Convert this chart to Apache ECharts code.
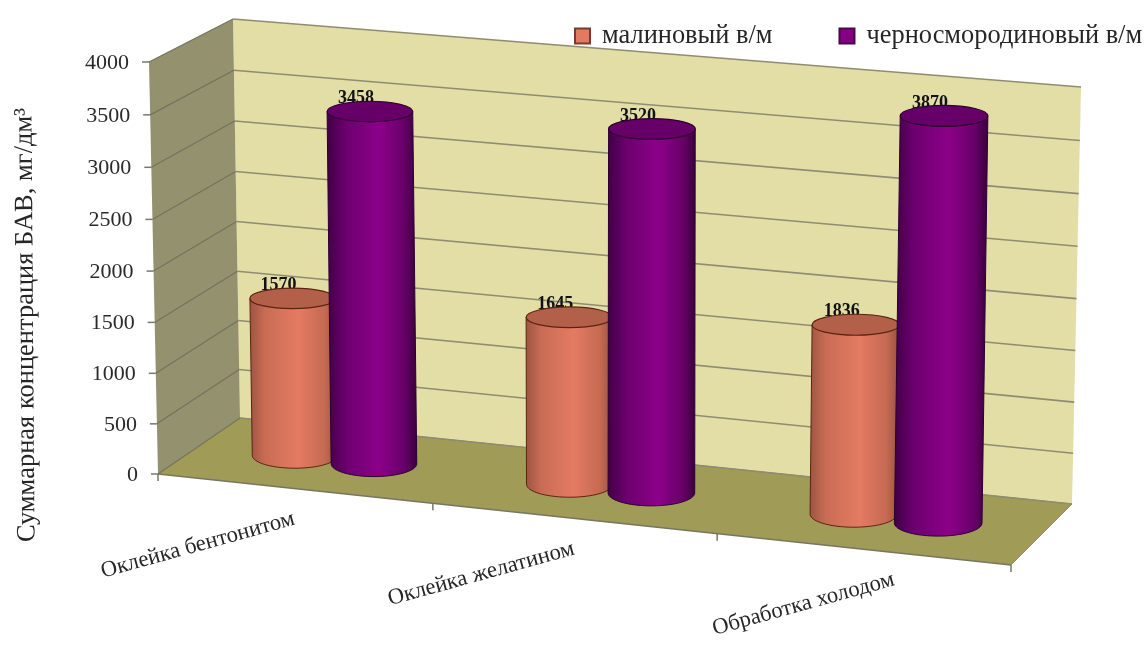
<!DOCTYPE html>
<html lang="ru">
<head>
<meta charset="utf-8">
<title>Суммарная концентрация БАВ</title>
<script src="https://cdn.jsdelivr.net/npm/echarts@6/dist/echarts.min.js"></script>
<style>
  html, body { margin: 0; padding: 0; background: #fff; }
  #chart { width: 1148px; height: 661px; }
</style>
</head>
<body>
<div id="chart"></div>
<script>
// Chart values
const categories = ['Оклейка бентонитом', 'Оклейка желатином', 'Обработка холодом'];
const raspberryName = 'малиновый в/м';
const blackcurrantName = 'черносмородиновый в/м';
const raspberry = [1570, 1645, 1836];
const blackcurrant = [3458, 3520, 3870];
const valueTicks = [0, 500, 1000, 1500, 2000, 2500, 3000, 3500, 4000];
const valueAxisTitle = 'Суммарная концентрация БАВ, мг/дм³';

// Screen corners of the 3D box: f = front, b = back, L/R = side, 0/1 = value floor/ceiling
const box = {
  fL0: [158, 474], fL1: [149, 62], fR0: [1011, 565], fR1: [1018, 135],
  bL0: [240, 418], bL1: [233, 19], bR0: [1072, 504], bR1: [1081, 87]
};
const serif = '"Liberation Serif", "Times New Roman", serif';

const lerp = (a, b, t) => [a[0] + (b[0] - a[0]) * t, a[1] + (b[1] - a[1]) * t];

// u: along the category axis, v: up the value axis, w: depth into the box (all 0..1)
function project(u, v, w) {
  // perspective foreshortening: the right and upper parts sit closer to the viewer
  const s = u - 0.05 * u * (1 - u);
  const h = v - 0.03 * v * (1 - v);
  const front = lerp(lerp(box.fL0, box.fR0, s), lerp(box.fL1, box.fR1, s), h);
  const back = lerp(lerp(box.bL0, box.bR0, s), lerp(box.bL1, box.bR1, s), h);
  return lerp(front, back, w);
}

// Convert a value pair to box fractions through the cartesian axes
function toUnit(api, params, cat, val) {
  const rect = params.coordSys;
  const p = api.coord([cat, val]);
  return { u: (p[0] - rect.x) / rect.width, v: (rect.y + rect.height - p[1]) / rect.height };
}

function renderFrame(params, api) {
  const poly = (pts, fill) => ({ type: 'polygon', shape: { points: pts }, silent: true, style: { fill } });
  const line = (a, b, stroke, width) => ({
    type: 'line', silent: true,
    shape: { x1: a[0], y1: a[1], x2: b[0], y2: b[1] },
    style: { stroke, lineWidth: width }
  });
  return {
    type: 'group',
    children: [
      poly([project(0, 0, 1), project(0, 1, 1), project(1, 1, 1), project(1, 0, 1)], '#e2dea6'),
      poly([project(0, 0, 0), project(0, 1, 0), project(0, 1, 1), project(0, 0, 1)], '#94916f'),
      poly([project(0, 0, 0), project(0, 0, 1), project(1, 0, 1), project(1, 0, 0)], '#a19b58'),
      line(project(0, 0, 0), project(1, 0, 0), '#77775f', 1.5),
      line(project(0, 0, 1), project(1, 0, 1), '#8d8b6a', 1),
      line(project(1, 0, 0), project(1, 0, 1), '#8d8b6a', 1),
      {
        type: 'text', silent: true, x: 26, y: 325, rotation: Math.PI / 2 + 0.007,
        style: {
          text: valueAxisTitle, fill: '#262626', font: '26.5px ' + serif,
          align: 'center', verticalAlign: 'middle'
        }
      }
    ]
  };
}

function renderValueTick(params, api) {
  const { v } = toUnit(api, params, 0, api.value(1));
  const a = project(0, v, 0), b = project(0, v, 1), c = project(1, v, 1);
  const stroke = (p, q, color, width) => ({
    type: 'line', silent: true,
    shape: { x1: p[0], y1: p[1], x2: q[0], y2: q[1] },
    style: { stroke: color, lineWidth: width }
  });
  return {
    type: 'group',
    children: [
      stroke(a, b, '#74735c', 1.2),
      stroke(b, c, '#8f8c72', 1.6),
      stroke(a, [a[0] - 7, a[1]], '#77776a', 1.5),
      {
        type: 'text', silent: true, x: a[0] - 20, y: a[1] + 1,
        style: {
          text: String(api.value(1)), fill: '#2a2a2a', font: '22px ' + serif,
          align: 'right', verticalAlign: 'middle'
        }
      }
    ]
  };
}

function renderCategoryTick(params, api) {
  const i = api.value(0);
  const rect = params.coordSys;
  const band = api.size([1, 0])[0] / rect.width;
  const { u } = toUnit(api, params, i, 0);
  const children = [];
  const left = project(u - band / 2, 0, 0);
  children.push({
    type: 'line', silent: true,
    shape: { x1: left[0], y1: left[1], x2: left[0], y2: left[1] + 7 },
    style: { stroke: '#77776a', lineWidth: 1.5 }
  });
  if (i === categories.length - 1) {
    const right = project(u + band / 2, 0, 0);
    children.push({
      type: 'line', silent: true,
      shape: { x1: right[0], y1: right[1], x2: right[0], y2: right[1] + 7 },
      style: { stroke: '#77776a', lineWidth: 1.5 }
    });
  }
  const anchor = project(u, 0, 0);
  const nudge = i === 2 ? 30 : -1;
  children.push({
    type: 'text', silent: true, x: anchor[0] + 1 + nudge, y: anchor[1] + 30,
    rotation: 0.27,
    style: {
      text: categories[i], fill: '#262626', font: '22.6px ' + serif,
      align: 'right', verticalAlign: 'middle'
    }
  });
  return { type: 'group', children };
}

// Shaded cylinder standing on the floor; the value label sits behind its cap
function cylinderRenderer(sideShift, stops, capFill, edge) {
  return function (params, api) {
    const { u, v } = toUnit(api, params, api.value(0), api.value(1));
    const uc = u + sideShift;
    const depth = 0.51;
    const base = project(uc, 0, depth);
    const top = project(uc, v, depth);
    const rx = 42.5 + 1.5 * uc;
    const ryBase = rx * 0.3, ryTop = rx * 0.24;
    const pts = [[top[0] - rx, top[1]]];
    for (let k = 0; k <= 40; k++) {
      const t = Math.PI - (Math.PI * k) / 40;
      pts.push([base[0] + rx * Math.cos(t), base[1] + ryBase * Math.sin(t)]);
    }
    pts.push([top[0] + rx, top[1]]);
    return {
      type: 'group',
      children: [
        {
          type: 'text', silent: true, x: top[0] - 14, y: top[1] - 13,
          style: {
            text: String(api.value(1)), fill: '#111', font: 'bold 18px ' + serif,
            align: 'center', verticalAlign: 'middle'
          }
        },
        {
          type: 'polygon', silent: true, shape: { points: pts },
          style: {
            fill: { type: 'linear', x: 0, y: 0, x2: 1, y2: 0, colorStops: stops },
            stroke: edge, lineWidth: 1
          }
        },
        {
          type: 'ellipse', silent: true,
          shape: { cx: top[0], cy: top[1], rx, ry: ryTop },
          style: { fill: capFill, stroke: edge, lineWidth: 1.2 }
        }
      ]
    };
  };
}

const salmonStops = [
  { offset: 0, color: '#9c5441' }, { offset: 0.18, color: '#c96c55' },
  { offset: 0.55, color: '#e47b62' }, { offset: 0.85, color: '#c56a53' },
  { offset: 1, color: '#94503d' }
];
const purpleStops = [
  { offset: 0, color: '#3f0045' }, { offset: 0.22, color: '#6d006f' },
  { offset: 0.58, color: '#8c0089' }, { offset: 0.85, color: '#680069' },
  { offset: 1, color: '#38003c' }
];

const chart = echarts.init(document.getElementById('chart'), null, { renderer: 'canvas' });
chart.setOption({
  animation: false,
  backgroundColor: '#ffffff',
  legend: {
    data: [raspberryName, blackcurrantName],
    left: 569, top: 18, icon: 'rect', itemWidth: 15, itemHeight: 15, itemGap: 66,
    textStyle: { fontFamily: serif, fontSize: 26.4, color: '#262626', padding: [0, 0, 0, 7] },
    selectedMode: false
  },
  grid: { left: 158, top: 62, width: 853, height: 412 },
  xAxis: { type: 'category', data: categories, show: false },
  yAxis: { type: 'value', min: 0, max: 4000, interval: 500, show: false },
  series: [
    {
      id: 'frame', type: 'custom', coordinateSystem: 'cartesian2d', z: 1, silent: true,
      data: [[0, 0]], encode: { x: 0, y: 1 }, renderItem: renderFrame
    },
    {
      id: 'valueTicks', type: 'custom', coordinateSystem: 'cartesian2d', z: 2, silent: true,
      data: valueTicks.map(t => [0, t]), encode: { x: 0, y: 1 }, renderItem: renderValueTick
    },
    {
      id: 'categoryTicks', type: 'custom', coordinateSystem: 'cartesian2d', z: 2, silent: true,
      data: categories.map((c, i) => [i, 0]), encode: { x: 0, y: 1 }, renderItem: renderCategoryTick
    },
    {
      name: raspberryName, type: 'custom', coordinateSystem: 'cartesian2d', z: 3,
      itemStyle: { color: '#e07a60', borderColor: '#7a3b2b', borderWidth: 1 },
      data: raspberry.map((v, i) => [i, v]), encode: { x: 0, y: 1 },
      renderItem: cylinderRenderer(-0.0485, salmonStops, '#b3604b', '#5c2313')
    },
    {
      name: blackcurrantName, type: 'custom', coordinateSystem: 'cartesian2d', z: 4,
      itemStyle: { color: '#860083', borderColor: '#4a0a4a', borderWidth: 1 },
      data: blackcurrant.map((v, i) => [i, v]), encode: { x: 0, y: 1 },
      renderItem: cylinderRenderer(0.0485, purpleStops, '#660068', '#2b0030')
    }
  ]
});
</script>
</body>
</html>
